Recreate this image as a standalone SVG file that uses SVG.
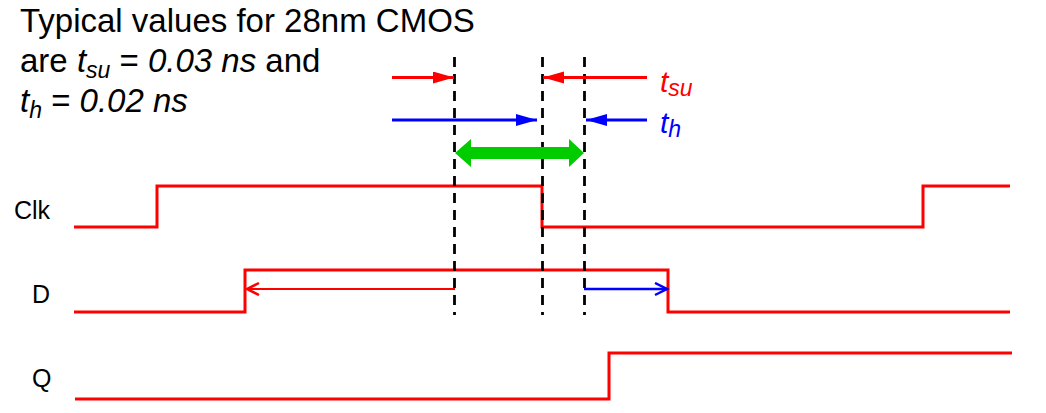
<svg xmlns="http://www.w3.org/2000/svg" width="1046" height="413" viewBox="0 0 1046 413">
<style>
.txt{font-family:"Liberation Sans",Arial,sans-serif;fill:#000}
.it{font-style:italic}
.lbl{font-family:"Liberation Sans",Arial,sans-serif;font-size:25px;fill:#000}
.wave{fill:none;stroke:#FF0000;stroke-width:3;stroke-linejoin:miter}
.dash{stroke:#000;stroke-width:2.8;stroke-dasharray:10 7}
.red{stroke:#FF0000;stroke-width:3;fill:none}
.blue{stroke:#0000FF;stroke-width:3;fill:none}
</style>
<defs>
<marker id="hr" markerUnits="userSpaceOnUse" markerWidth="22" markerHeight="14" refX="21" refY="6" orient="auto"><path d="M0,0 L21,6 L0,12 z" fill="#FF0000"/></marker>
<marker id="hb" markerUnits="userSpaceOnUse" markerWidth="22" markerHeight="14" refX="21" refY="6" orient="auto"><path d="M0,0 L21,6 L0,12 z" fill="#0000FF"/></marker>
<marker id="cr" markerUnits="userSpaceOnUse" markerWidth="16" markerHeight="16" refX="13" refY="7" orient="auto"><path d="M1,1 L13,7 L1,13" fill="none" stroke="#FF0000" stroke-width="2.5"/></marker>
<marker id="cb" markerUnits="userSpaceOnUse" markerWidth="16" markerHeight="16" refX="13" refY="7" orient="auto"><path d="M1,1 L13,7 L1,13" fill="none" stroke="#0000FF" stroke-width="2.5"/></marker>
</defs>
<g id="title" class="txt" font-size="33">
<text x="20" y="32">Typical values for 28nm CMOS</text>
<text x="20" y="72">are <tspan class="it">t</tspan><tspan class="it" font-size="23" dy="6">su</tspan><tspan dy="-6"> = </tspan><tspan class="it">0.03 ns</tspan> and</text>
<text x="20" y="112"><tspan class="it">t</tspan><tspan class="it" font-size="23" dy="6">h</tspan><tspan dy="-6"> = </tspan><tspan class="it">0.02 ns</tspan></text>
</g>
<g id="clk">
<text class="lbl" x="14" y="219">Clk</text>
<path class="wave" d="M74,227 H157 V186 H542 V227 H923 V186 H1010"/>
</g>
<g id="d">
<text class="lbl" x="32" y="303">D</text>
<path class="wave" d="M74,312 H245 V270 H668 V312 H1010"/>
</g>
<g id="q">
<text class="lbl" x="32" y="387">Q</text>
<path class="wave" d="M75,399 H609 V353 H1012"/>
</g>
<g id="guides">
<line class="dash" x1="454.5" y1="57" x2="454.5" y2="315"/>
<line class="dash" x1="542.5" y1="57" x2="542.5" y2="315"/>
<line class="dash" x1="584.5" y1="57" x2="584.5" y2="315"/>
</g>
<g id="labels">
<text class="txt it" x="660" y="92" font-size="30" style="fill:#FF0000">t<tspan font-size="23" dy="4">su</tspan></text>
<text class="txt it" x="660" y="133" font-size="30" style="fill:#0000FF">t<tspan font-size="23" dy="4">h</tspan></text>
</g>
<g id="connectors">
<line class="red" x1="392" y1="77.5" x2="454" y2="77.5" marker-end="url(#hr)"/>
<line class="red" x1="647" y1="77.5" x2="543" y2="77.5" marker-end="url(#hr)"/>
<line class="blue" x1="392" y1="120" x2="537" y2="120" marker-end="url(#hb)"/>
<line class="blue" x1="647" y1="120" x2="586" y2="120" marker-end="url(#hb)"/>
<polygon points="455,153 471,139 471,147 569,147 569,139 584,153 569,167 569,159 471,159 471,167" fill="#00CC00"/>
<line class="red" style="stroke-width:2" x1="455" y1="289" x2="247" y2="289" marker-end="url(#cr)"/>
<line class="blue" style="stroke-width:2.5" x1="584" y1="289" x2="667" y2="289" marker-end="url(#cb)"/>
</g>
</svg>
